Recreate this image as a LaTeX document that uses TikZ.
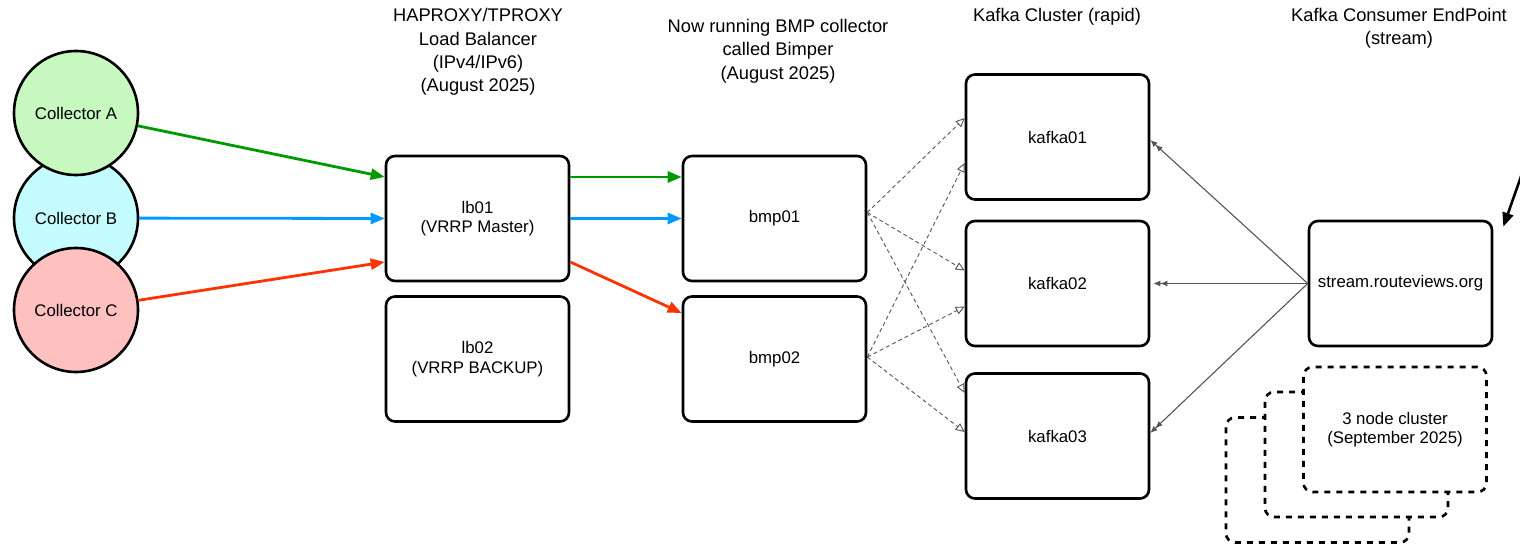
\documentclass[tikz,border=0pt]{standalone}
\usepackage{fontspec}
\setmainfont{Liberation Sans}
\usetikzlibrary{arrows.meta,calc}
\definecolor{cgreen}{HTML}{009900}
\definecolor{cblue}{HTML}{0099FF}
\definecolor{cred}{HTML}{FF3300}
\definecolor{fgreen}{HTML}{C6F8C0}
\definecolor{fblue}{HTML}{C4FCFF}
\definecolor{fred}{HTML}{FFC0C0}
\definecolor{lgray}{HTML}{555555}
\begin{document}
\begin{tikzpicture}[x=1pt,y=-1pt,
  txt/.style={font=\fontsize{16.8}{19.5}\selectfont, align=center, inner sep=0pt},
  head/.style={font=\fontsize{18.3}{23.3}\selectfont, align=center, inner sep=0pt},
  box/.style={draw, line width=2.6pt, rounded corners=9pt, minimum width=183pt, minimum height=125pt, fill=white, txt},
  dbox/.style={box, dash pattern=on 6pt off 6pt},
  coll/.style={circle, draw, line width=2.6pt, minimum size=124pt, inner sep=0pt, txt},
  carrow/.style={line width=2.8pt, -{Triangle[length=14pt,width=11pt]}},
  darrow/.style={draw=lgray, line width=0.9pt, dash pattern=on 4pt off 3pt, -{Triangle[open,length=9pt,width=8pt]}},
  sarrow/.style={draw=lgray, line width=1.1pt, -{Latex[length=7pt,width=6pt]Latex[length=7pt,width=6pt]}}]
\useasboundingbox (0,0) rectangle (1520,548);

% collectors
\node[coll, fill=fblue] (B) at (76,218) {Collector B};
\node[coll, fill=fgreen] (A) at (76,113) {Collector A};
\node[coll, fill=fred] (C) at (76,310) {Collector C};

% headers
\node[head] (h1) at (478,52) {HAPROXY/TPROXY\\Load Balancer\\(IPv4/IPv6)\\(August 2025)};
\node[head] (h2) at (778,51) {Now running BMP collector\\called Bimper\\(August 2025)};
\node[head] (h3) at (1057,17) {Kafka Cluster (rapid)};
\node[head] (h4) at (1399,28.5) {Kafka Consumer EndPoint\\(stream)};

% boxes
\node[box] (lb01) at (477.5,218.5) {lb01\\(VRRP Master)};
\node[box] (lb02) at (477.5,359) {lb02\\(VRRP BACKUP)};
\node[box] (bmp01) at (774.5,218.5) {bmp01};
\node[box] (bmp02) at (774.5,359) {bmp02};
\node[box] (k1) at (1057.5,137) {kafka01};
\node[box] (k2) at (1057.5,283.5) {kafka02};
\node[box] (k3) at (1057.5,436) {kafka03};
\node[box] (st) at (1400.5,283.5) {stream.routeviews.org};

% dashed cluster stack
\node[dbox] (d3) at (1317.5,480) {};
\node[dbox] (d2) at (1356.5,454.5) {};
\node[dbox] (d1) at (1395,429.5) {3 node cluster\\(September 2025)};

% collector -> lb01
\draw[carrow, cgreen] (A) -- ($(lb01.west)+(0,-41.5)$);
\draw[carrow, cblue] (B) -- (lb01.west);
\draw[carrow, cred] (C) -- ($(lb01.west)+(0,43.5)$);

% lb01 -> bmp
\draw[carrow, cgreen] ($(lb01.east)+(0,-41.5)$) -- ($(bmp01.west)+(0,-41.5)$);
\draw[carrow, cblue] (lb01.east) -- (bmp01.west);
\draw[carrow, cred] ($(lb01.east)+(0,43.5)$) -- ($(bmp02.west)+(0,-46)$);

% bmp -> kafka
\coordinate (b1o) at ($(bmp01.east)+(0,-6)$);
\coordinate (b2o) at ($(bmp02.east)+(0,-2)$);
\draw[darrow] (b1o) -- ($(k1.west)+(0,-19)$);
\draw[darrow] (b1o) -- ($(k2.west)+(0,-13)$);
\draw[darrow] (b1o) -- ($(k3.west)+(0,-43)$);
\draw[darrow] (b2o) -- ($(k1.west)+(0,26)$);
\draw[darrow] (b2o) -- ($(k2.west)+(0,23)$);
\draw[darrow] (b2o) -- ($(k3.west)+(0,-4)$);

% stream -> kafka
\draw[sarrow] (st.west) -- ($(k1.east)+(0,3)$);
\draw[sarrow] (st.west) -- ($(k2.east)+(3,0)$);
\draw[sarrow] (st.west) -- ($(k3.east)+(0,-3)$);

% top-right arrow
\coordinate (tr) at (1524,168);
\draw[line width=2.6pt, -{Triangle[length=14pt,width=11pt]}] (tr) -- ($(st.north east)+(10,7)$);
\end{tikzpicture}
\end{document}
